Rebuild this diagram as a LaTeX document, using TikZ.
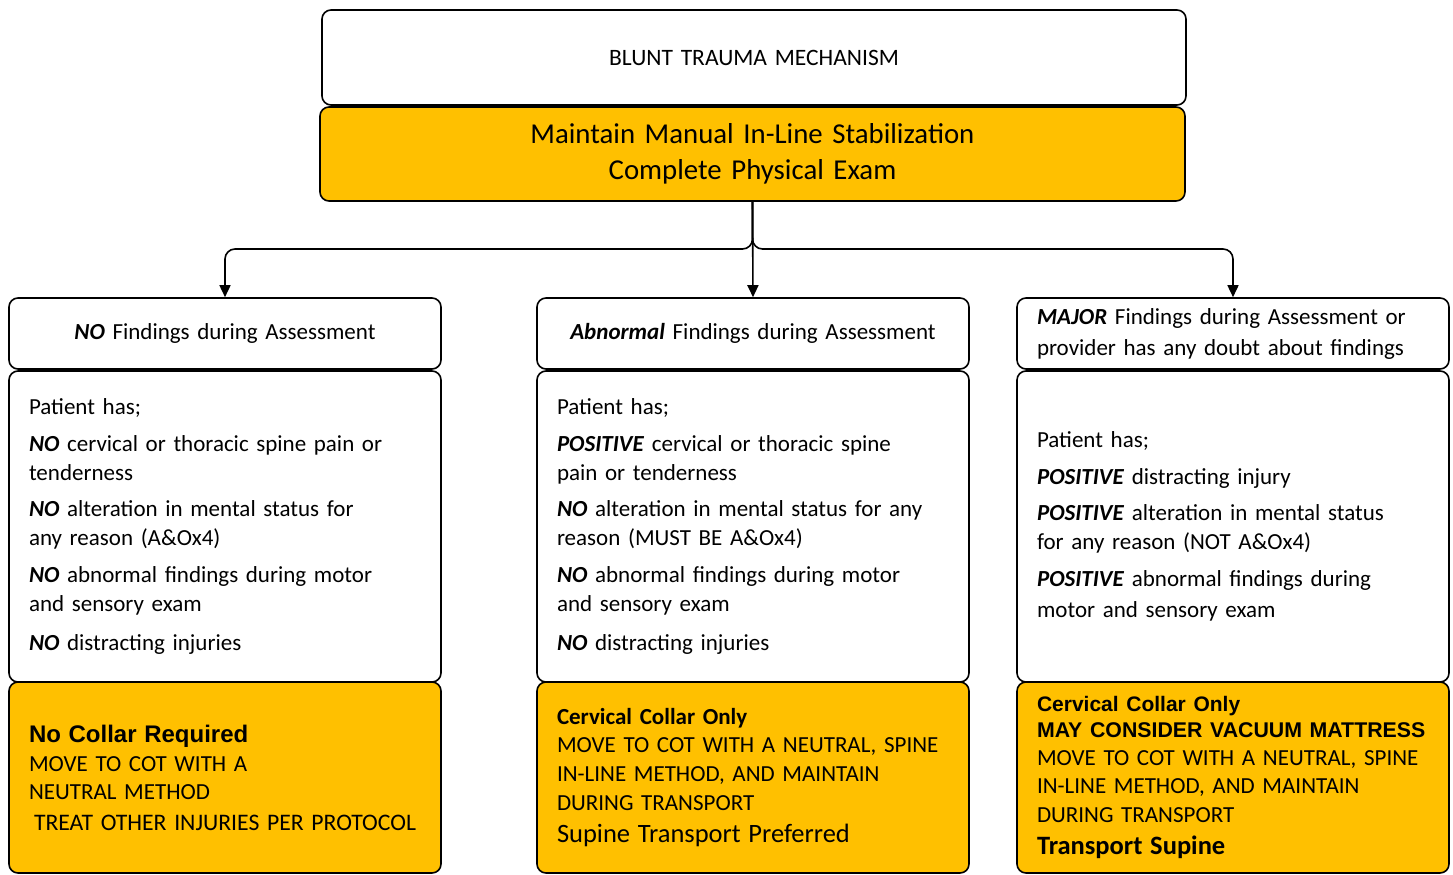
\documentclass[tikz,border=0pt]{standalone}
\usepackage{fontspec}
\setmainfont{Carlito}
\newfontfamily\arialfont{Liberation Sans}
\usetikzlibrary{arrows.meta}
\definecolor{gold}{HTML}{FFC000}
\newcommand{\bi}[1]{\textbf{\textit{#1}}}
\tikzset{
  box/.style={draw, line width=1.6pt, rounded corners=9pt, inner xsep=20pt, inner ysep=0pt,
    text width=392pt, minimum width=432pt, align=left, font=\fontsize{23}{29}\selectfont},
  whitebox/.style={box, fill=white},
  goldbox/.style={box, fill=gold},
  conn/.style={line width=1.6pt, rounded corners=10pt},
  arr/.style={conn, -{Triangle[length=12pt,width=11pt]}},
}
\begin{document}
\begin{tikzpicture}[x=1pt,y=-1pt]
\useasboundingbox (0,0) rectangle (1453,875);

% top of the chart
\node[whitebox, text width=824pt, minimum width=864pt, minimum height=95pt, align=center,
  font=\fontsize{23.5}{28}\selectfont] (mech) at (754,57.5) {BLUNT TRAUMA MECHANISM};
\node[goldbox, text width=825pt, minimum width=865pt, minimum height=94pt, align=center,
  font=\fontsize{28.8}{36}\selectfont] (stab) at (752.5,154)
  {Maintain Manual In-Line Stabilization\\Complete Physical Exam};

% column headers
\node[whitebox, minimum height=71pt, align=center] (noF) at (225,333.5)
  {\bi{NO} Findings during Assessment};
\node[whitebox, minimum height=71pt, align=center] (abF) at (753,333.5)
  {\bi{Abnormal} Findings during Assessment};
\node[whitebox, minimum height=71pt, font=\fontsize{23}{31}\selectfont] (majF) at (1233,333.5)
  {\bi{MAJOR} Findings during Assessment or\\provider has any doubt about findings};

% criteria
\node[whitebox, minimum height=311pt] (noC) at (225,526.5)
  {Patient has;\\[8pt]
   \bi{NO} cervical or thoracic spine pain or\\tenderness\\[7pt]
   \bi{NO} alteration in mental status for\\any reason (A\&Ox4)\\[8pt]
   \bi{NO} abnormal findings during motor\\and sensory exam\\[10pt]
   \bi{NO} distracting injuries};
\node[whitebox, minimum height=311pt] (abC) at (753,526.5)
  {Patient has;\\[8pt]
   \bi{POSITIVE} cervical or thoracic spine\\pain or tenderness\\[7pt]
   \bi{NO} alteration in mental status for any\\reason (MUST BE A\&Ox4)\\[8pt]
   \bi{NO} abnormal findings during motor\\and sensory exam\\[10pt]
   \bi{NO} distracting injuries};
\node[whitebox, minimum height=311pt] (majC) at (1233,526.5)
  {Patient has;\\[8pt]
   \bi{POSITIVE} distracting injury\\[7pt]
   \bi{POSITIVE} alteration in mental status\\for any reason (NOT A\&Ox4)\\[8pt]
   \bi{POSITIVE} abnormal findings during\\[2pt]motor and sensory exam};

% treatment
\node[goldbox, minimum height=191pt] (noT) at (225,777.5)
  {{\arialfont\bfseries\fontsize{24}{29}\selectfont No Collar Required}\\
   MOVE TO COT WITH A\\[-1pt]
   NEUTRAL METHOD\\[2pt]
   \hspace*{5pt}{\fontsize{23.7}{29}\selectfont TREAT OTHER INJURIES PER PROTOCOL}};
\node[goldbox, minimum height=191pt] (abT) at (753,777.5)
  {\textbf{Cervical Collar Only}\\[-1pt]
   MOVE TO COT WITH A NEUTRAL, SPINE\\
   IN-LINE METHOD, AND MAINTAIN\\
   DURING TRANSPORT\\[3pt]
   {\fontsize{26.5}{29}\selectfont Supine Transport Preferred}};
\node[goldbox, minimum height=191pt, font=\fontsize{23}{28}\selectfont] (majT) at (1233,777.5)
  {{\arialfont\bfseries\fontsize{21}{28}\selectfont Cervical Collar Only}\\[-2pt]
   {\arialfont\bfseries\fontsize{21.3}{28}\selectfont MAY CONSIDER VACUUM MATTRESS}\\
   MOVE TO COT WITH A NEUTRAL, SPINE\\
   IN-LINE METHOD, AND MAINTAIN\\[1pt]
   DURING TRANSPORT\\[4pt]
   {\bfseries\fontsize{26.5}{29}\selectfont Transport Supine}};

% branching connectors
\coordinate (split) at (752.5,249);
\draw[arr] (stab.south) -- (split) -| (noF.north);
\draw[arr] (stab.south) -- (split) -| (majF.north);
\draw[arr] (stab.south) -- (abF.north);
\end{tikzpicture}
\end{document}
